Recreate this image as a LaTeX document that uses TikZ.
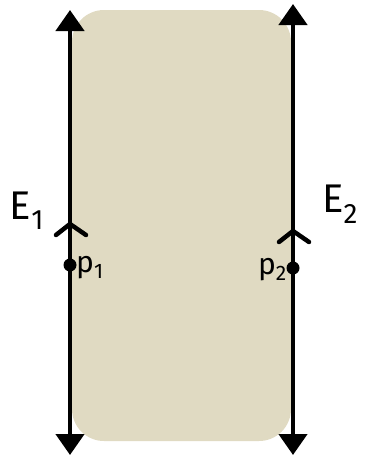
\documentclass[tikz,border=0pt]{standalone}
\usepackage{fontspec}
\setmainfont{Fira Sans}
\usetikzlibrary{arrows.meta}
\definecolor{stripfill}{RGB}{224,218,194}
\tikzset{
  edge/.style={line width=4.5pt,-{Triangle[width=28pt,length=21pt]}},
  chev/.style={line width=4.5pt,line cap=round,line join=round},
  dotpt/.style={circle,fill=black,inner sep=0pt,minimum size=13pt},
  lbl/.style={inner sep=0pt,font=\fontsize{40}{44}\selectfont},
  plbl/.style={inner sep=0pt,font=\fontsize{30}{34}\selectfont}
}
\begin{document}
\begin{tikzpicture}[x=1pt,y=-1pt]
\useasboundingbox (0,0) rectangle (364,455);
\fill[stripfill,rounded corners=32pt] (72,10) rectangle (291,441);
% coordinates
\coordinate (L0) at (70,455);
\coordinate (L1) at (70,10);
\coordinate (R0) at (293,455);
\coordinate (R1) at (293,4);
\coordinate (Lm) at (70,240);
\coordinate (Rm) at (293,240);
% lines with arrows
\draw[edge] (Lm) -- (L1);
\draw[edge] (Lm) -- (L0);
\draw[edge] (Rm) -- (R1);
\draw[edge] (Rm) -- (R0);
% chevrons
\draw[chev] (56,235) -- (70,224) -- (86,235);
\draw[chev] (279,242) -- (293,231) -- (309,242);
% points
\node[dotpt] (p1) at (70,265) {};
\node[dotpt] (p2) at (293,268) {};
\node[plbl,anchor=west] (p1l) at (76,268) {p\textsubscript{1}};
\node[plbl,anchor=east] (p2l) at (287,270) {p\textsubscript{2}};
% labels
\node[lbl] (E1) at (27,211) {E\textsubscript{1}};
\node[lbl] (E2) at (340,204) {E\textsubscript{2}};
\end{tikzpicture}
\end{document}
